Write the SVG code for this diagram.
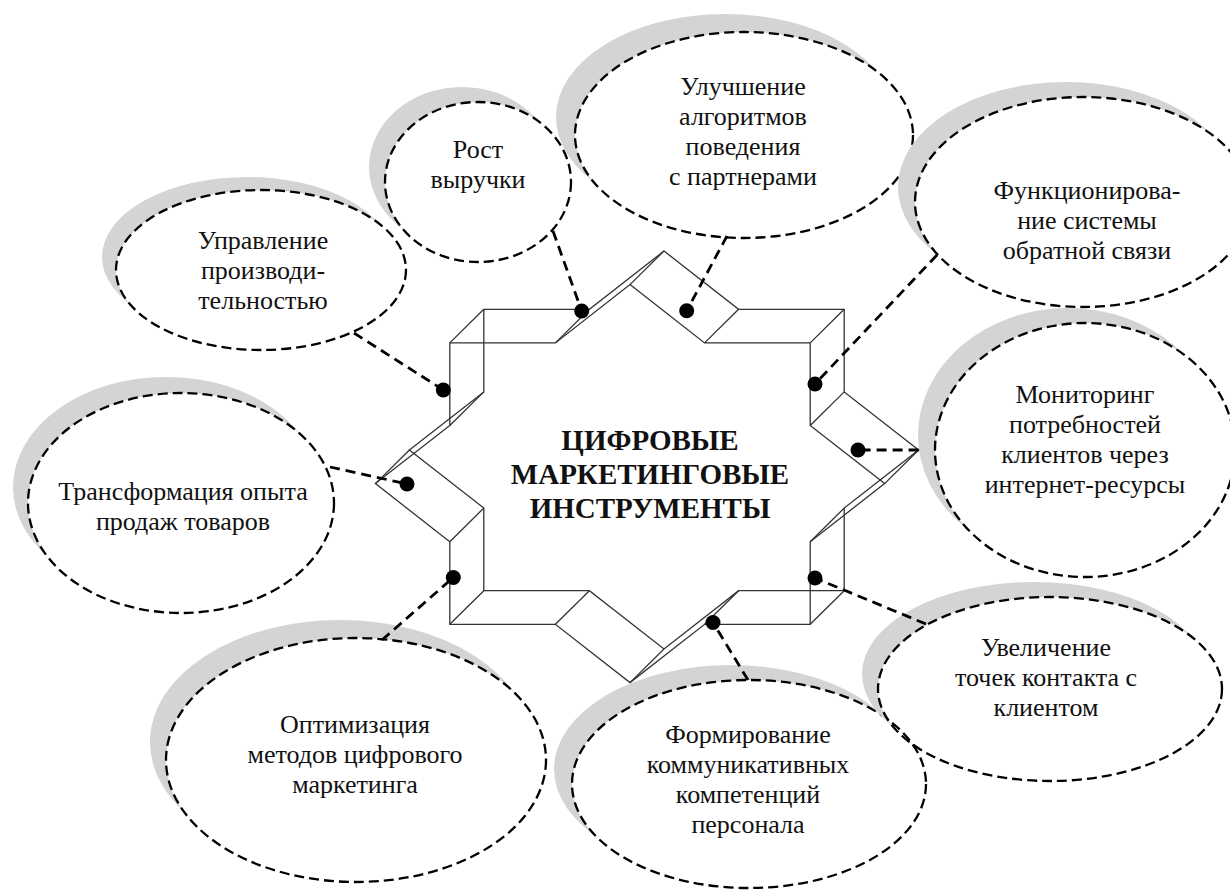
<svg xmlns="http://www.w3.org/2000/svg" xmlns:xlink="http://www.w3.org/1999/xlink" width="1230" height="890" viewBox="0 0 1230 890">
<style>
.sh{fill:#d4d4d4}
.el{fill:none;stroke:#000;stroke-width:2.3;stroke-dasharray:10 5}
.t{font-family:"Liberation Serif","Times New Roman",serif;font-size:26px;fill:#111;text-anchor:middle}
.ct{font-family:"Liberation Serif","Times New Roman",serif;font-size:29px;font-weight:bold;fill:#111;text-anchor:middle}
.cn{fill:none;stroke:#000;stroke-width:2.8;stroke-dasharray:10 6}
.dot{fill:#000}
.st{fill:none;stroke:#333;stroke-width:1.3}
</style>
<defs>
<polygon id="oct" points="0,-199 74.6,-140.7 180.2,-140.7 180.2,-58.1 254.6,0 180.2,58.1 180.2,140.7 74.6,140.7 0,199 -74.6,140.7 -180.2,140.7 -180.2,58.1 -254.6,0 -180.2,-58.1 -180.2,-140.7 -74.6,-140.7"/>
<mask id="m1" maskUnits="userSpaceOnUse" x="0" y="0" width="1230" height="890"><rect width="1230" height="890" fill="#fff"/><ellipse cx="478" cy="182" rx="93" ry="80" fill="#000"/></mask>
<mask id="m2" maskUnits="userSpaceOnUse" x="0" y="0" width="1230" height="890"><rect width="1230" height="890" fill="#fff"/><ellipse cx="744" cy="135" rx="169" ry="103" fill="#000"/></mask>
<mask id="m3" maskUnits="userSpaceOnUse" x="0" y="0" width="1230" height="890"><rect width="1230" height="890" fill="#fff"/><ellipse cx="261" cy="270" rx="145" ry="80" fill="#000"/></mask>
<mask id="m4" maskUnits="userSpaceOnUse" x="0" y="0" width="1230" height="890"><rect width="1230" height="890" fill="#fff"/><ellipse cx="1083" cy="202" rx="168" ry="105" fill="#000"/></mask>
<mask id="m5" maskUnits="userSpaceOnUse" x="0" y="0" width="1230" height="890"><rect width="1230" height="890" fill="#fff"/><ellipse cx="1085" cy="450" rx="150" ry="127" fill="#000"/></mask>
<mask id="m6" maskUnits="userSpaceOnUse" x="0" y="0" width="1230" height="890"><rect width="1230" height="890" fill="#fff"/><ellipse cx="181" cy="503" rx="153" ry="110" fill="#000"/></mask>
<mask id="m7" maskUnits="userSpaceOnUse" x="0" y="0" width="1230" height="890"><rect width="1230" height="890" fill="#fff"/><ellipse cx="356" cy="760" rx="190" ry="122" fill="#000"/></mask>
<mask id="m8" maskUnits="userSpaceOnUse" x="0" y="0" width="1230" height="890"><rect width="1230" height="890" fill="#fff"/><ellipse cx="749" cy="784" rx="177" ry="104" fill="#000"/></mask>
<mask id="m9" maskUnits="userSpaceOnUse" x="0" y="0" width="1230" height="890"><rect width="1230" height="890" fill="#fff"/><ellipse cx="1050" cy="689" rx="172" ry="92" fill="#000"/></mask>
</defs>
<rect width="1230" height="890" fill="#fff"/>

<g id="n-rost">
<ellipse class="sh" cx="462" cy="167" rx="93" ry="80" mask="url(#m1)"/>
<ellipse class="el" cx="478" cy="182" rx="93" ry="80"/>
<text class="t" x="478" y="158">Рост</text>
<text class="t" x="478" y="188">выручки</text>
</g>
<g id="n-uluch">
<ellipse class="sh" cx="725" cy="117" rx="169" ry="103" mask="url(#m2)"/>
<ellipse class="el" cx="744" cy="135" rx="169" ry="103"/>
<text class="t" x="743" y="95">Улучшение</text>
<text class="t" x="743" y="125">алгоритмов</text>
<text class="t" x="743" y="155">поведения</text>
<text class="t" x="743" y="185">с партнерами</text>
</g>
<g id="n-upr">
<ellipse class="sh" cx="247" cy="257" rx="145" ry="80" mask="url(#m3)"/>
<ellipse class="el" cx="261" cy="270" rx="145" ry="80"/>
<text class="t" x="263" y="249">Управление</text>
<text class="t" x="263" y="279">производи-</text>
<text class="t" x="263" y="309">тельностью</text>
</g>
<g id="n-func">
<ellipse class="sh" cx="1066" cy="187" rx="168" ry="105" mask="url(#m4)"/>
<ellipse class="el" cx="1083" cy="202" rx="168" ry="105"/>
<text class="t" x="1087" y="199">Функционирова-</text>
<text class="t" x="1087" y="229">ние системы</text>
<text class="t" x="1087" y="259">обратной связи</text>
</g>
<g id="n-monit">
<ellipse class="sh" cx="1068" cy="435" rx="150" ry="127" mask="url(#m5)"/>
<ellipse class="el" cx="1085" cy="450" rx="150" ry="127"/>
<text class="t" x="1085" y="403">Мониторинг</text>
<text class="t" x="1085" y="433">потребностей</text>
<text class="t" x="1085" y="463">клиентов через</text>
<text class="t" x="1085" y="493">интернет-ресурсы</text>
</g>
<g id="n-trans">
<ellipse class="sh" cx="166" cy="487" rx="153" ry="110" mask="url(#m6)"/>
<ellipse class="el" cx="181" cy="503" rx="153" ry="110"/>
<text class="t" x="183" y="500">Трансформация опыта</text>
<text class="t" x="183" y="530">продаж товаров</text>
</g>
<g id="n-optim">
<ellipse class="sh" cx="340" cy="742" rx="190" ry="122" mask="url(#m7)"/>
<ellipse class="el" cx="356" cy="760" rx="190" ry="122"/>
<text class="t" x="355" y="733">Оптимизация</text>
<text class="t" x="355" y="763">методов цифрового</text>
<text class="t" x="355" y="793">маркетинга</text>
</g>
<g id="n-form">
<ellipse class="sh" cx="731" cy="769" rx="177" ry="104" mask="url(#m8)"/>
<ellipse class="el" cx="749" cy="784" rx="177" ry="104"/>
<text class="t" x="748" y="743">Формирование</text>
<text class="t" x="748" y="773">коммуникативных</text>
<text class="t" x="748" y="803">компетенций</text>
<text class="t" x="748" y="833">персонала</text>
</g>
<g id="n-uvel">
<ellipse class="sh" cx="1034" cy="674" rx="172" ry="92" mask="url(#m9)"/>
<ellipse class="el" cx="1050" cy="689" rx="172" ry="92"/>
<text class="t" x="1046" y="656">Увеличение</text>
<text class="t" x="1046" y="686">точек контакта с</text>
<text class="t" x="1046" y="716">клиентом</text>
</g>

<g id="star" transform="translate(664,450)">
<use xlink:href="#oct" href="#oct" class="st"/>
<use xlink:href="#oct" href="#oct" class="st" x="-34" y="33.6"/>
<path class="st" d="M0,-199l-34,33.6M74.6,-140.7l-34,33.6M180.2,-140.7l-34,33.6M180.2,-58.1l-34,33.6M254.6,0l-34,33.6M180.2,58.1l-34,33.6M180.2,140.7l-34,33.6M74.6,140.7l-34,33.6M0,199l-34,33.6M-74.6,140.7l-34,33.6M-180.2,140.7l-34,33.6M-180.2,58.1l-34,33.6M-254.6,0l-34,33.6M-180.2,-58.1l-34,33.6M-180.2,-140.7l-34,33.6M-74.6,-140.7l-34,33.6"/>
<text class="ct" x="-14" y="0">ЦИФРОВЫЕ</text>
<text class="ct" x="-14" y="34">МАРКЕТИНГОВЫЕ</text>
<text class="ct" x="-14" y="68">ИНСТРУМЕНТЫ</text>
</g>

<g id="connectors">
<line class="cn" x1="553" y1="231" x2="581.7" y2="311"/>
<line class="cn" x1="727" y1="236" x2="686.7" y2="310.7"/>
<line class="cn" x1="354" y1="333" x2="443.3" y2="390"/>
<line class="cn" x1="330" y1="467" x2="407" y2="484"/>
<line class="cn" x1="382" y1="640" x2="453.3" y2="577.5"/>
<line class="cn" x1="748" y1="680" x2="713" y2="622.5"/>
<line class="cn" x1="926" y1="624" x2="815" y2="578"/>
<line class="cn" x1="918.6" y1="450" x2="858" y2="450"/>
<line class="cn" x1="937" y1="255" x2="815" y2="384"/>
<circle class="dot" cx="581.7" cy="311" r="7.5"/>
<circle class="dot" cx="686.7" cy="310.7" r="7.5"/>
<circle class="dot" cx="443.3" cy="390" r="7.5"/>
<circle class="dot" cx="407" cy="484" r="7.5"/>
<circle class="dot" cx="453.3" cy="577.5" r="7.5"/>
<circle class="dot" cx="713" cy="622.5" r="7.5"/>
<circle class="dot" cx="815" cy="578" r="7.5"/>
<circle class="dot" cx="858" cy="450" r="7.5"/>
<circle class="dot" cx="815" cy="384" r="7.5"/>
</g>
</svg>
